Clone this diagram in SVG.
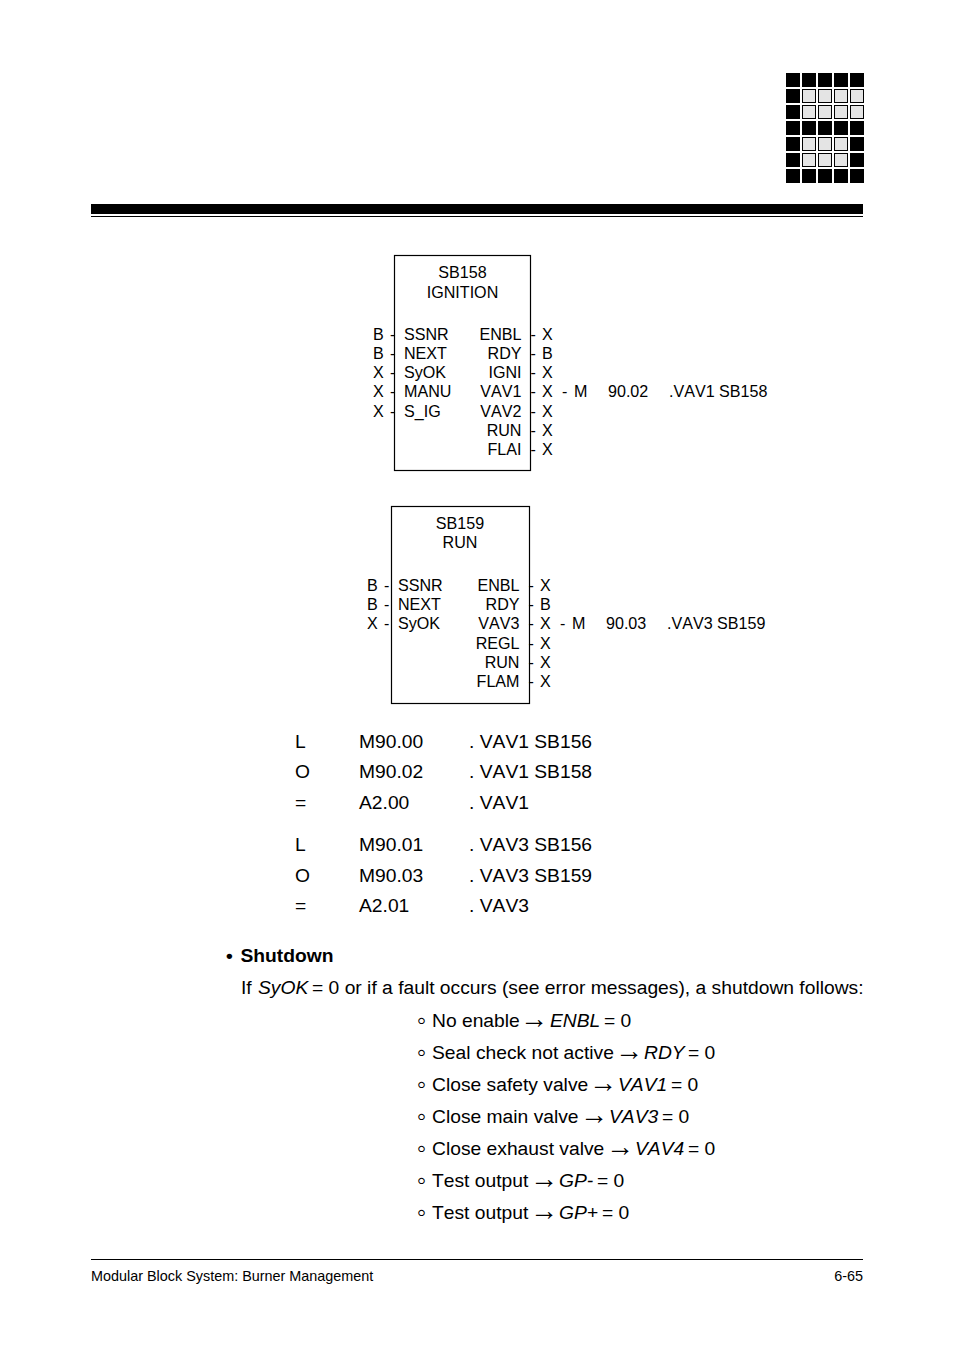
<svg xmlns="http://www.w3.org/2000/svg" width="954" height="1351" viewBox="0 0 954 1351">
<style>
text{font-family:"Liberation Sans",Arial,sans-serif;fill:#000;font-kerning:none}
.b{font-size:16.1px}
.m{text-anchor:middle}
.e{text-anchor:end}
.t{font-size:19.25px}
.f{font-size:14.4px}
.d{fill:#000}
.g{fill:#e4e4e4;stroke:#000;stroke-width:1}
.box{fill:#fff;stroke:#000;stroke-width:1.2}
.i{font-style:italic}
.a{font-family:"Liberation Serif",serif;font-size:28px}
.o{font-size:26px}
</style>
<rect width="954" height="1351" fill="#fff"/>
<g id="logo">
<rect class="d" x="786" y="73" width="14" height="14"/><rect class="d" x="802" y="73" width="14" height="14"/><rect class="d" x="818" y="73" width="14" height="14"/><rect class="d" x="834" y="73" width="14" height="14"/><rect class="d" x="850" y="73" width="14" height="14"/>
<rect class="d" x="786" y="89" width="14" height="14"/><rect class="g" x="802.5" y="89.5" width="13" height="13"/><rect class="g" x="818.5" y="89.5" width="13" height="13"/><rect class="g" x="834.5" y="89.5" width="13" height="13"/><rect class="g" x="850.5" y="89.5" width="13" height="13"/>
<rect class="d" x="786" y="105" width="14" height="14"/><rect class="g" x="802.5" y="105.5" width="13" height="13"/><rect class="g" x="818.5" y="105.5" width="13" height="13"/><rect class="g" x="834.5" y="105.5" width="13" height="13"/><rect class="g" x="850.5" y="105.5" width="13" height="13"/>
<rect class="d" x="786" y="121" width="14" height="14"/><rect class="d" x="802" y="121" width="14" height="14"/><rect class="d" x="818" y="121" width="14" height="14"/><rect class="d" x="834" y="121" width="14" height="14"/><rect class="d" x="850" y="121" width="14" height="14"/>
<rect class="d" x="786" y="137" width="14" height="14"/><rect class="g" x="802.5" y="137.5" width="13" height="13"/><rect class="g" x="818.5" y="137.5" width="13" height="13"/><rect class="g" x="834.5" y="137.5" width="13" height="13"/><rect class="d" x="850" y="137" width="14" height="14"/>
<rect class="d" x="786" y="153" width="14" height="14"/><rect class="g" x="802.5" y="153.5" width="13" height="13"/><rect class="g" x="818.5" y="153.5" width="13" height="13"/><rect class="g" x="834.5" y="153.5" width="13" height="13"/><rect class="d" x="850" y="153" width="14" height="14"/>
<rect class="d" x="786" y="169" width="14" height="14"/><rect class="d" x="802" y="169" width="14" height="14"/><rect class="d" x="818" y="169" width="14" height="14"/><rect class="d" x="834" y="169" width="14" height="14"/><rect class="d" x="850" y="169" width="14" height="14"/>
</g>
<g id="header-rule">
<rect class="d" x="91" y="204" width="772" height="10"/>
<rect class="d" x="91" y="216" width="772" height="1"/>
</g>
<g id="sb158">
<rect class="box" x="394.5" y="255.5" width="136" height="215"/>
<text class="b m" x="462.5" y="278">SB158</text>
<text class="b m" x="462.5" y="298">IGNITION</text>
<g class="b">
<text x="373" y="340">B</text><text x="373" y="359">B</text><text x="373" y="378">X</text><text x="373" y="397">X</text><text x="373" y="417">X</text>
<text x="390" y="340">-</text><text x="390" y="359">-</text><text x="390" y="378">-</text><text x="390" y="397">-</text><text x="390" y="417">-</text>
<text x="404" y="340">SSNR</text><text x="404" y="359">NEXT</text><text x="404" y="378">SyOK</text><text x="404" y="397">MANU</text><text x="404" y="417">S_IG</text>
<text class="e" x="521.5" y="340">ENBL</text><text class="e" x="521.5" y="359">RDY</text><text class="e" x="521.5" y="378">IGNI</text><text class="e" x="521.5" y="397">VAV1</text><text class="e" x="521.5" y="417">VAV2</text><text class="e" x="521.5" y="436">RUN</text><text class="e" x="521.5" y="455">FLAI</text>
<text x="530.5" y="340">-</text><text x="530.5" y="359">-</text><text x="530.5" y="378">-</text><text x="530.5" y="397">-</text><text x="530.5" y="417">-</text><text x="530.5" y="436">-</text><text x="530.5" y="455">-</text>
<text x="542" y="340">X</text><text x="542" y="359">B</text><text x="542" y="378">X</text><text x="542" y="397">X</text><text x="542" y="417">X</text><text x="542" y="436">X</text><text x="542" y="455">X</text>
<text x="562" y="397">-<tspan x="574">M</tspan></text><text x="608" y="397">90.02</text><text x="669" y="397">.VAV1 SB158</text>
</g>
</g>
<g id="sb159">
<rect class="box" x="391.5" y="506.5" width="138" height="197"/>
<text class="b m" x="460" y="529">SB159</text>
<text class="b m" x="460" y="548">RUN</text>
<g class="b">
<text x="367" y="591">B</text><text x="367" y="610">B</text><text x="367" y="629">X</text>
<text x="384" y="591">-</text><text x="384" y="610">-</text><text x="384" y="629">-</text>
<text x="398" y="591">SSNR</text><text x="398" y="610">NEXT</text><text x="398" y="629">SyOK</text>
<text class="e" x="519.5" y="591">ENBL</text><text class="e" x="519.5" y="610">RDY</text><text class="e" x="519.5" y="629">VAV3</text><text class="e" x="519.5" y="649">REGL</text><text class="e" x="519.5" y="668">RUN</text><text class="e" x="519.5" y="687">FLAM</text>
<text x="528.5" y="591">-</text><text x="528.5" y="610">-</text><text x="528.5" y="629">-</text><text x="528.5" y="649">-</text><text x="528.5" y="668">-</text><text x="528.5" y="687">-</text>
<text x="540" y="591">X</text><text x="540" y="610">B</text><text x="540" y="629">X</text><text x="540" y="649">X</text><text x="540" y="668">X</text><text x="540" y="687">X</text>
<text x="560" y="629">-<tspan x="572">M</tspan></text><text x="606" y="629">90.03</text><text x="667" y="629">.VAV3 SB159</text>
</g>
</g>
<g id="code" class="t">
<text x="295" y="748">L</text><text x="359" y="748">M90.00</text><text x="469" y="748">. VAV1 SB156</text>
<text x="295" y="778">O</text><text x="359" y="778">M90.02</text><text x="469" y="778">. VAV1 SB158</text>
<text x="295" y="809">=</text><text x="359" y="809">A2.00</text><text x="469" y="809">. VAV1</text>
<text x="295" y="851">L</text><text x="359" y="851">M90.01</text><text x="469" y="851">. VAV3 SB156</text>
<text x="295" y="882">O</text><text x="359" y="882">M90.03</text><text x="469" y="882">. VAV3 SB159</text>
<text x="295" y="912">=</text><text x="359" y="912">A2.01</text><text x="469" y="912">. VAV3</text>
</g>
<g id="shutdown" class="t">
<text x="226" y="962" font-weight="bold">•<tspan x="240.5">Shutdown</tspan></text>
<text x="241" y="994">If <tspan class="i" x="258">SyOK</tspan><tspan x="312">= 0 or if a fault occurs (see error messages), a shutdown follows:</tspan></text>
<text class="o" x="417" y="1029">◦</text><text x="432" y="1027">No enable</text><text class="a" x="520" y="1028">→</text><text x="550" y="1027"><tspan class="i">ENBL</tspan><tspan x="604">= 0</tspan></text>
<text class="o" x="417" y="1061">◦</text><text x="432" y="1059">Seal check not active</text><text class="a" x="615" y="1060">→</text><text x="644" y="1059"><tspan class="i">RDY</tspan><tspan x="688">= 0</tspan></text>
<text class="o" x="417" y="1093">◦</text><text x="432" y="1091">Close safety valve</text><text class="a" x="589" y="1092">→</text><text x="618" y="1091"><tspan class="i">VAV1</tspan><tspan x="671">= 0</tspan></text>
<text class="o" x="417" y="1125">◦</text><text x="432" y="1123">Close main valve</text><text class="a" x="580" y="1124">→</text><text x="609" y="1123"><tspan class="i">VAV3</tspan><tspan x="662">= 0</tspan></text>
<text class="o" x="417" y="1157">◦</text><text x="432" y="1155">Close exhaust valve</text><text class="a" x="606" y="1156">→</text><text x="635" y="1155"><tspan class="i">VAV4</tspan><tspan x="688">= 0</tspan></text>
<text class="o" x="417" y="1189">◦</text><text x="432" y="1187">Test output</text><text class="a" x="530" y="1188">→</text><text x="559" y="1187"><tspan class="i">GP-</tspan><tspan x="597">= 0</tspan></text>
<text class="o" x="417" y="1221">◦</text><text x="432" y="1219">Test output</text><text class="a" x="530" y="1220">→</text><text x="559" y="1219"><tspan class="i">GP+</tspan><tspan x="602">= 0</tspan></text>
</g>
<g id="footer">
<rect class="d" x="91" y="1259" width="772" height="1"/>
<text class="f" x="91" y="1281">Modular Block System: Burner Management</text>
<text class="f e" x="863" y="1281">6-65</text>
</g>
</svg>
